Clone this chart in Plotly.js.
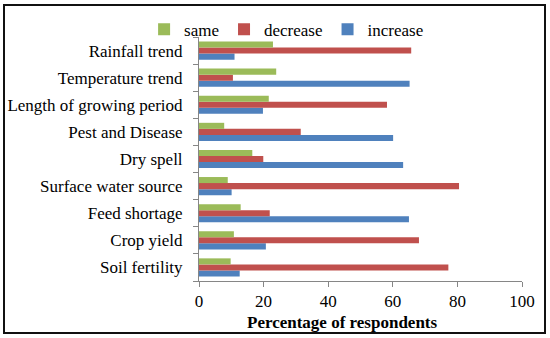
<!DOCTYPE html>
<html><head><meta charset="utf-8">
<script src="https://cdn.plot.ly/plotly-3.0.1.min.js"></script>
<style>
html,body{margin:0;padding:0;background:#fff;}
#frame{position:absolute;left:3px;top:4px;width:539px;height:326px;border:2px solid #111;}
#chart{position:absolute;left:0;top:0;width:550px;height:338px;}
</style></head>
<body>
<div id="frame"></div>
<div id="chart"></div>
<script>
const categories = ["Soil fertility","Crop yield","Feed shortage","Surface water source","Dry spell","Pest and Disease","Length of growing period","Temperature trend","Rainfall trend"];
const increaseVals = [12.6, 20.7, 65.0, 10.1, 63.2, 60.1, 19.8, 65.2, 11.0];
const decreaseVals = [77.2, 68.1, 21.9, 80.5, 19.9, 31.5, 58.2, 10.5, 65.7];
const sameVals     = [9.8, 10.8, 12.9, 8.9, 16.5, 7.8, 21.6, 23.9, 22.9];
const xTicks = [0,20,40,60,80,100];
const xTitle = "Percentage of respondents";

const font = {family:"Liberation Serif", size:17, color:"#000"};
const traces = [
  {type:"bar", orientation:"h", name:"increase", y:categories, x:increaseVals, marker:{color:"#4F81BD"}},
  {type:"bar", orientation:"h", name:"decrease", y:categories, x:decreaseVals, marker:{color:"#C0504D"}},
  {type:"bar", orientation:"h", name:"same", y:categories, x:sameVals, marker:{color:"#9BBB59"}}
];
const layout = {
  width:550, height:338,
  margin:{l:199, r:28, t:37, b:57},
  paper_bgcolor:"rgba(0,0,0,0)", plot_bgcolor:"rgba(0,0,0,0)",
  font:font,
  barmode:"group", bargap:0.33, bargroupgap:0,
  showlegend:true,
  legend:{orientation:"h", traceorder:"reversed", x:-0.17, xanchor:"left", y:1.03, yanchor:"middle",
          font:font, bgcolor:"rgba(0,0,0,0)", itemwidth:30, tracegroupgap:0},
  xaxis:{range:[0,100], tickvals:xTicks, ticks:"outside", ticklen:5, tickcolor:"#868686",
         showline:true, linecolor:"#868686", linewidth:1, showgrid:false, zeroline:false,
         tickfont:font, fixedrange:true},
  yaxis:{type:"category", categoryorder:"array", categoryarray:categories, tickson:"boundaries",
         ticks:"outside", ticklen:5, tickcolor:"#868686", showline:true, linecolor:"#868686", linewidth:1,
         showgrid:false, zeroline:false, tickfont:font, ticklabelstandoff:12, fixedrange:true},
  annotations:[{text:"<b>"+xTitle+"</b>", xref:"paper", yref:"paper", x:0.444, y:-0.172,
                xanchor:"center", yanchor:"middle", showarrow:false, font:font}]
};
Plotly.newPlot("chart", traces, layout, {displayModeBar:false, staticPlot:true});
</script>
</body></html>
